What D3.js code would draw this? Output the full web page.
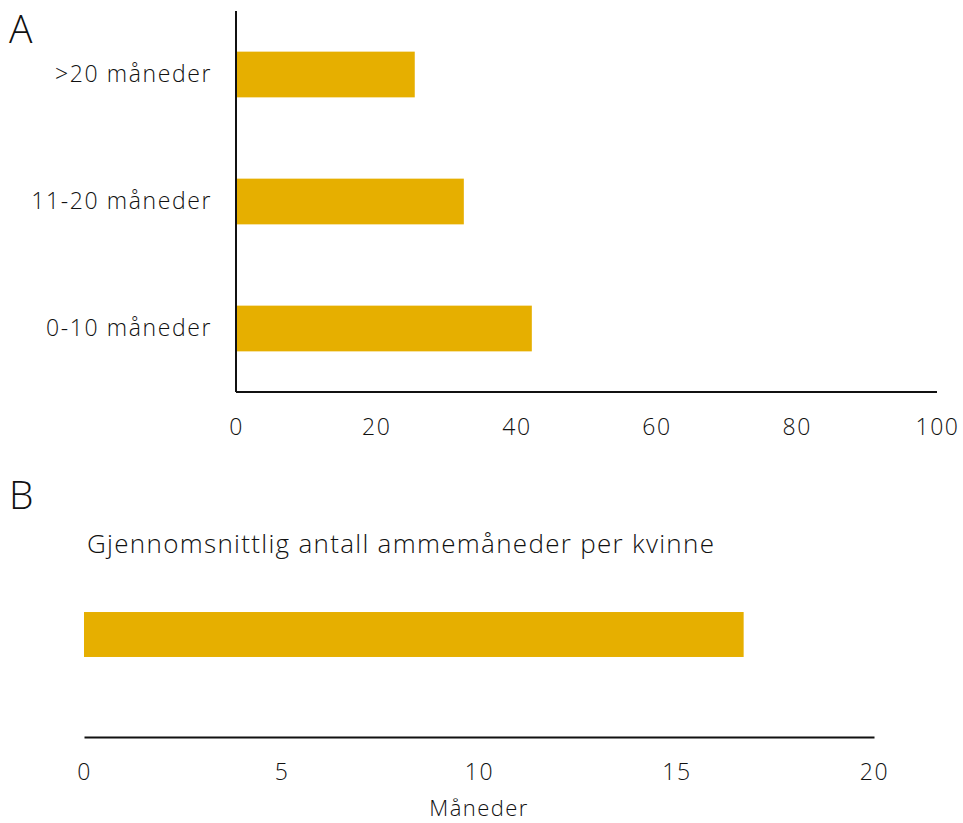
<!DOCTYPE html>
<html>
<head>
<meta charset="utf-8">
<script src="https://cdn.jsdelivr.net/npm/d3@7"></script>
<style>
  body { margin: 0; background: #fff; }
  text { font-family: "Open Sans", Lato, sans-serif; font-weight: 300; fill: #111; }
  .domain { stroke: #111; stroke-width: 2; }
</style>
</head>
<body>
<svg width="963" height="823"></svg>
<script>
// panel A: share by breastfeeding duration
const categoriesA = [">20 måneder", "11-20 måneder", "0-10 måneder"]
const valuesA = [25.5, 32.5, 42.2]
const ticksA = [0, 20, 40, 60, 80, 100]

// panel B: average months per woman
const categoriesB = ["Gjennomsnittlig antall ammemåneder per kvinne"]
const valuesB = [16.7]
const ticksB = [0, 5, 10, 15, 20]

const barColor = "#e6af00"
const fontSize = 23

let svg = d3.select("svg")

// ---- A ----
let xA = d3.scaleLinear().domain([0, 100]).range([236, 937])
let yA = d3.scaleBand().domain(categoriesA).range([11, 392])
    .paddingInner(0.64).paddingOuter(0.32)

svg.append("text")
    .attr("x", 9).attr("y", 43)
    .style("font-size", "39px")
    .text("A")

svg.selectAll(".barA")
    .data(categoriesA)
    .enter()
    .append("rect")
        .attr("class", "barA")
        .style("fill", barColor)
        .attr("x", xA(0))
        .attr("y", d => yA(d))
        .attr("width", (d, i) => xA(valuesA[i]) - xA(0))
        .attr("height", yA.bandwidth())

let axisXA = svg.append("g")
    .attr("transform", "translate(0,392)")
    .call(d3.axisBottom(xA).tickValues(ticksA).tickSize(0).tickPadding(27))
let axisYA = svg.append("g")
    .attr("transform", "translate(236,0)")
    .call(d3.axisLeft(yA).tickSize(0).tickPadding(24))

// ---- B ----
let xB = d3.scaleLinear().domain([0, 20]).range([84, 874])
let yB = d3.scaleBand().domain(categoriesB).range([532, 737])
    .paddingInner(0).paddingOuter(1.78)

svg.append("text")
    .attr("x", 9).attr("y", 509)
    .style("font-size", "39px")
    .text("B")

svg.append("text")
    .attr("x", 87).attr("y", 553)
    .style("font-size", "26px")
    .style("letter-spacing", "1.3px")
    .text(categoriesB[0])

svg.selectAll(".barB")
    .data(categoriesB)
    .enter()
    .append("rect")
        .attr("class", "barB")
        .style("fill", barColor)
        .attr("x", xB(0))
        .attr("y", d => yB(d))
        .attr("width", (d, i) => xB(valuesB[i]) - xB(0))
        .attr("height", yB.bandwidth())

let axisXB = svg.append("g")
    .attr("transform", "translate(0,737)")
    .call(d3.axisBottom(xB).tickValues(ticksB).tickSize(0).tickPadding(27))

svg.append("text")
    .attr("x", xB(10)).attr("y", 816)
    .attr("text-anchor", "middle")
    .style("font-size", "22px")
    .style("letter-spacing", "1.4px")
    .text("Måneder")

svg.selectAll(".tick text")
    .style("font-size", fontSize + "px")
    .style("font-family", "'Open Sans', Lato, sans-serif")
    .style("font-weight", 300)
    .style("letter-spacing", "1.6px")
    .attr("fill", "#111")
svg.selectAll(".tick line").remove()
axisXA.select(".domain").attr("d", "M236,0H937")
axisYA.select(".domain").attr("d", "M0,11V392")
</script>
</body>
</html>
